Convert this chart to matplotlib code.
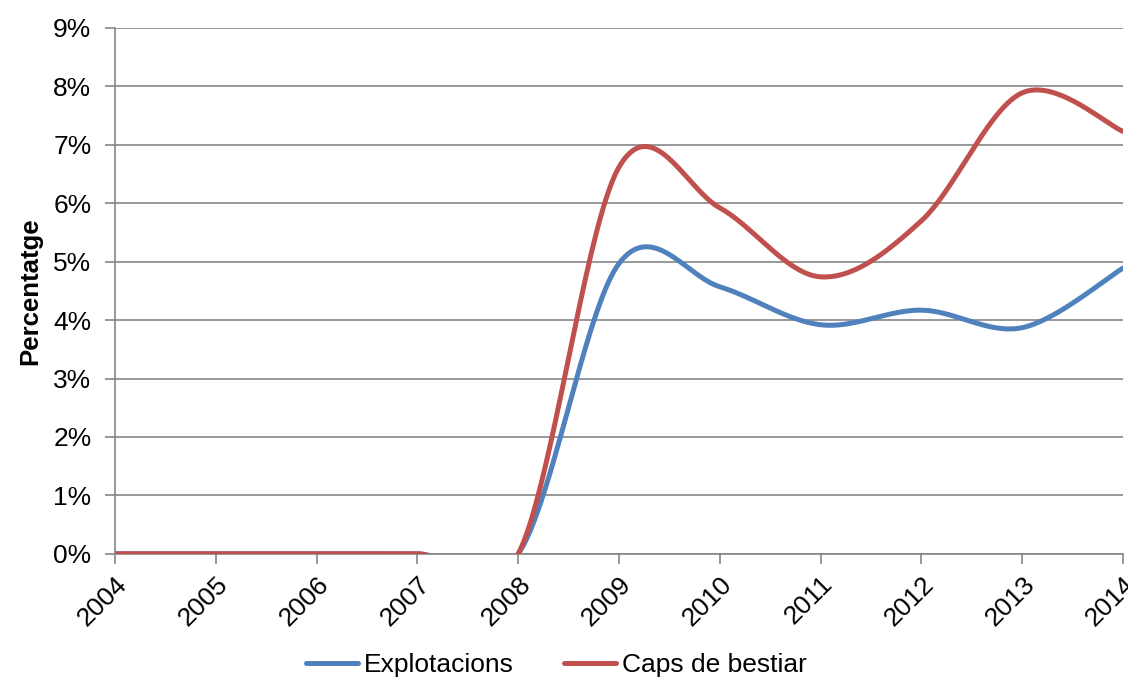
import matplotlib
matplotlib.use("Agg")
import matplotlib.pyplot as plt
from matplotlib.ticker import FuncFormatter
import numpy as np

plt.rcParams["font.family"] = ["Liberation Sans", "DejaVu Sans"]

years = [2004, 2005, 2006, 2007, 2008, 2009, 2010, 2011, 2012, 2013, 2014]
explotacions = [0, 0, 0, 0, 0, 4.97, 4.57, 3.92, 4.17, 3.87, 4.89]
caps_bestiar = [0, 0, 0, 0, 0, 6.62, 5.92, 4.74, 5.70, 7.89, 7.23]

BLUE = "#4F81BD"
RED = "#C0504D"
GRID = "#868686"


def smooth(x, y, n=40):
    # Excel-style smoothed line (cubic bezier, catmull-rom control points)
    x = np.asarray(x, float)
    y = np.asarray(y, float)
    px = np.concatenate([[x[0]], x, [x[-1]]])
    py = np.concatenate([[y[0]], y, [y[-1]]])
    xs, ys = [], []
    t = np.linspace(0, 1, n)
    for i in range(1, len(px) - 2):
        p0 = np.array([px[i], py[i]])
        p3 = np.array([px[i + 1], py[i + 1]])
        c1 = p0 + (p3 - np.array([px[i - 1], py[i - 1]])) / 6
        c2 = p3 - (np.array([px[i + 2], py[i + 2]]) - p0) / 6
        b = (((1 - t) ** 3)[:, None] * p0 + (3 * (1 - t) ** 2 * t)[:, None] * c1
             + (3 * (1 - t) * t ** 2)[:, None] * c2 + (t ** 3)[:, None] * p3)
        xs.extend(b[:, 0])
        ys.extend(b[:, 1])
    return np.array(xs), np.array(ys)


fig = plt.figure(figsize=(11.28, 6.82), dpi=100)
ax = fig.add_axes([0.102, 0.188, 0.8936, 0.771])

for data, color, label in [(explotacions, BLUE, "Explotacions"),
                           (caps_bestiar, RED, "Caps de bestiar")]:
    sx, sy = smooth(years, data)
    ax.plot(sx, sy, color=color, lw=3.6, label=label, solid_capstyle="round", zorder=3)

ax.set_xlim(2004, 2014)
ax.set_ylim(0, 9)
ax.set_yticks(range(0, 10))
ax.yaxis.set_major_formatter(FuncFormatter(lambda v, p: f"{int(v)}%"))
ax.set_xticks(years)
ax.set_xticklabels([str(y) for y in years], rotation=45, ha="right",
                   rotation_mode="anchor")
ax.grid(axis="y", color=GRID, lw=1.2)
ax.set_axisbelow(True)
for s in ["top", "right"]:
    ax.spines[s].set_visible(False)
for s in ["left", "bottom"]:
    ax.spines[s].set_color(GRID)
    ax.spines[s].set_linewidth(1.2)
ax.tick_params(axis="both", colors=GRID, labelcolor="black", labelsize=19,
               length=7, width=1.2, direction="out")
ax.tick_params(axis="y", pad=10)
ax.tick_params(axis="x", pad=6)

ax.set_ylabel("Percentatge", fontsize=18.5, fontweight="bold", labelpad=8)

fig.legend(*ax.get_legend_handles_labels(), loc="center",
           bbox_to_anchor=(0.493, 0.025), ncol=2, frameon=False,
           fontsize=19, handlelength=2.0, columnspacing=1.9, handletextpad=0.2)

fig.savefig("out.png", dpi=100)
